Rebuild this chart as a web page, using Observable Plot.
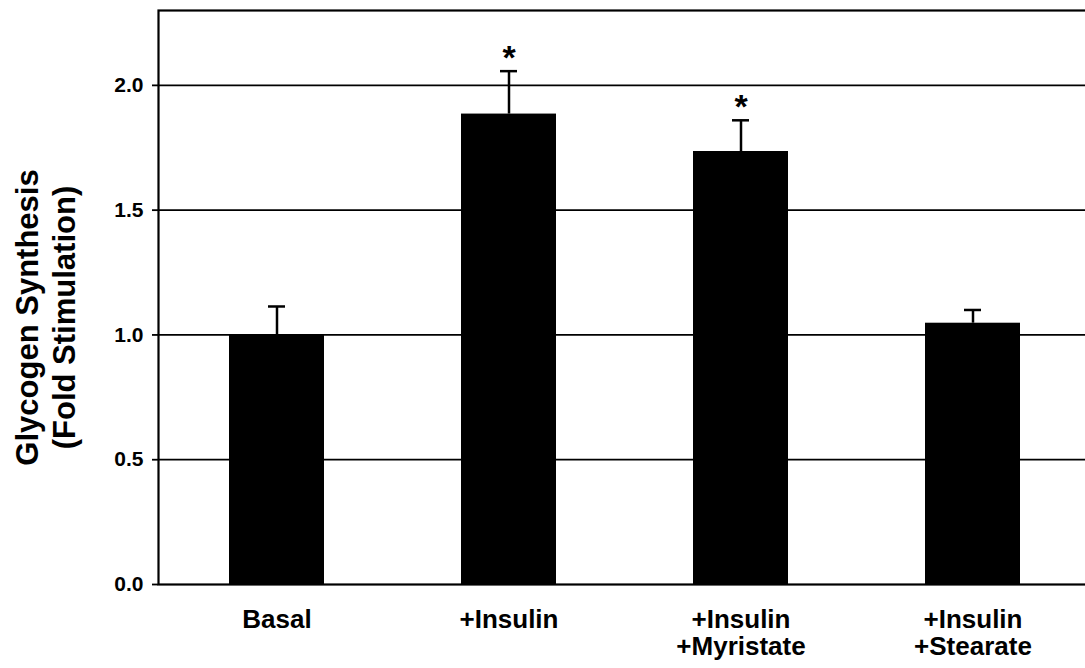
<!DOCTYPE html>
<html>
<head>
<meta charset="utf-8">
<script src="https://cdn.jsdelivr.net/npm/d3@7"></script>
<script src="https://cdn.jsdelivr.net/npm/@observablehq/plot@0.6"></script>
<style>
  html, body { margin: 0; padding: 0; background: #fff; }
  #chart svg { display: block; }
</style>
</head>
<body>
<div id="chart"></div>
<script>
// Glycogen synthesis, fold stimulation over basal (mean ± SEM)
const conditions = ["Basal", "+Insulin", "+Insulin\n+Myristate", "+Insulin\n+Stearate"];
const means = [1.00, 1.885, 1.735, 1.047];
const sems = [0.114, 0.172, 0.125, 0.053];
const significant = [false, true, true, false];
const yTicks = [0, 0.5, 1.0, 1.5, 2.0];
const yMax = 2.3;
const yTitle = "Glycogen Synthesis\n(Fold Stimulation)";

const rows = conditions.map((c, i) => ({
  condition: c,
  mean: means[i],
  top: means[i] + sems[i],
  star: significant[i]
}));

const chart = Plot.plot({
  width: 1085,
  height: 668,
  marginLeft: 158,
  marginRight: -2,
  marginTop: 10,
  marginBottom: 84,
  style: {
    fontFamily: "'Liberation Sans', Arial, Helvetica, sans-serif",
    fontWeight: "bold",
    color: "black",
    background: "white"
  },
  x: { domain: conditions, range: [158, 1092], paddingInner: 0.59, paddingOuter: 0.3 },
  y: { domain: [0, yMax] },
  marks: [
    // horizontal reference lines
    Plot.ruleY(yTicks.filter(d => d > 0), { stroke: "black", strokeWidth: 1.8 }),
    // bars
    Plot.barY(rows, { x: "condition", y: "mean", fill: "black" }),
    // error bar stems and caps
    Plot.ruleX(rows, { x: "condition", y1: "mean", y2: "top", stroke: "black", strokeWidth: 2.5 }),
    Plot.tickY(rows, { x: "condition", y: "top", stroke: "black", strokeWidth: 2.5, insetLeft: 39, insetRight: 39 }),
    // significance markers
    Plot.text(rows.filter(d => d.star), { x: "condition", y: "top", text: () => "*", fontSize: 34, fontWeight: "bold", dy: -13 }),
    // frame: top, left and bottom edges of the plot area
    Plot.frame({ stroke: "black", strokeWidth: 2.2 }),
    Plot.axisY({
      ticks: yTicks,
      tickFormat: d3.format(".1f"),
      tickSize: 6,
      tickPadding: 9,
      strokeWidth: 1.8,
      fontSize: 21,
      fontWeight: "bold",
      label: null
    }),
    Plot.axisX({
      tickSize: 0,
      tickPadding: 24,
      fontSize: 26,
      fontWeight: "bold",
      lineHeight: 1.05,
      label: null
    }),
    // rotated two-line y-axis title
    Plot.text([yTitle], {
      frameAnchor: "left",
      rotate: -90,
      dx: -114,
      dy: 20,
      fontSize: 31,
      fontWeight: "bold",
      lineHeight: 1.2,
      textAnchor: "middle",
      lineAnchor: "middle"
    })
  ]
});

document.getElementById("chart").appendChild(chart);
</script>
</body>
</html>
